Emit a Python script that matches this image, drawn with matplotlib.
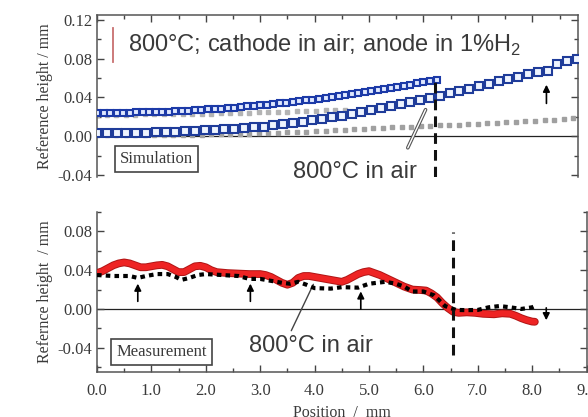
import numpy as np
import matplotlib.pyplot as plt
import matplotlib.patheffects as pe
from matplotlib.ticker import MultipleLocator, FormatStrFormatter

plt.rcParams['font.family'] = ['Liberation Serif', 'DejaVu Serif']
plt.rcParams['axes.unicode_minus'] = False
plt.rcParams['mathtext.fontset'] = 'custom'
plt.rcParams['mathtext.rm'] = 'Liberation Sans'

# ---- Simulacion (panel de arriba) ----
# cathode en aire, anode en 1%H2 (cuadros densos, arriba)
paso_h2 = 0.12
sim_h2 = [0.0240, 0.0240, 0.0241, 0.0241, 0.0242, 0.0243, 0.0245, 0.0246, 0.0248, 0.0250,
          0.0253, 0.0255, 0.0258, 0.0261, 0.0265, 0.0269, 0.0272, 0.0277, 0.0281, 0.0286,
          0.0291, 0.0296, 0.0301, 0.0307, 0.0313, 0.0319, 0.0326, 0.0332, 0.0339, 0.0347,
          0.0354, 0.0362, 0.0370, 0.0378, 0.0386, 0.0395, 0.0404, 0.0413, 0.0423, 0.0433,
          0.0443, 0.0453, 0.0464, 0.0474, 0.0485, 0.0497, 0.0508, 0.0520, 0.0532, 0.0544,
          0.0557, 0.0570, 0.0583]
# 800C en aire (cuadros grandes)
paso_aire = 0.18
sim_aire = [0.0030, 0.0031, 0.0032, 0.0033, 0.0035, 0.0038, 0.0041, 0.0044, 0.0047, 0.0051,
            0.0055, 0.0060, 0.0065, 0.0071, 0.0078, 0.0085, 0.0092, 0.0100, 0.0112, 0.0124,
            0.0137, 0.0150, 0.0163, 0.0178, 0.0195, 0.0213, 0.0232, 0.0252, 0.0272, 0.0292,
            0.0312, 0.0332, 0.0352, 0.0372, 0.0395, 0.0418, 0.0442, 0.0466, 0.0490, 0.0515,
            0.0540, 0.0565, 0.0590, 0.0615, 0.0640, 0.0660, 0.0672, 0.0740, 0.0775, 0.0800]
# referencias en gris
paso_gris = 0.175
sim_gris = [0.0010, 0.0010, 0.0011, 0.0011, 0.0012, 0.0012, 0.0013, 0.0014, 0.0015, 0.0016,
            0.0017, 0.0018, 0.0019, 0.0021, 0.0023, 0.0025, 0.0027, 0.0030, 0.0033, 0.0036,
            0.0040, 0.0044, 0.0049, 0.0054, 0.0059, 0.0064, 0.0068, 0.0073, 0.0078, 0.0082,
            0.0087, 0.0091, 0.0096, 0.0100, 0.0104, 0.0108, 0.0112, 0.0117, 0.0121, 0.0125,
            0.0130, 0.0134, 0.0139, 0.0144, 0.0149, 0.0154, 0.0160, 0.0166, 0.0172, 0.0178,
            0.0185]
sim_gris2 = [0.0222, 0.0222, 0.0223, 0.0223, 0.0224, 0.0225, 0.0226, 0.0227, 0.0228, 0.0229,
             0.0230, 0.0232, 0.0234, 0.0236, 0.0238, 0.0240, 0.0243, 0.0246, 0.0249, 0.0252,
             0.0255, 0.0258, 0.0261, 0.0264, 0.0267, 0.0271, 0.0275]

# ---- Medicion (panel de abajo) ----
x_med_h2 = [0.00, 0.10, 0.20, 0.30, 0.40, 0.50, 0.60, 0.70, 0.80, 0.90, 1.00, 1.10, 1.20, 1.30,
            1.40, 1.50, 1.60, 1.70, 1.80, 1.90, 2.00, 2.10, 2.20, 2.40, 2.60, 2.80, 3.00, 3.10,
            3.20, 3.30, 3.40, 3.50, 3.60, 3.70, 3.80, 3.90, 4.00, 4.20, 4.40, 4.50, 4.60, 4.70,
            4.80, 4.90, 5.00, 5.10, 5.20, 5.35, 5.50, 5.65, 5.80, 5.95, 6.05, 6.15, 6.25, 6.35,
            6.45, 6.55, 6.65, 6.80, 6.95, 7.10, 7.30, 7.45, 7.60, 7.70, 7.80, 7.90, 8.00, 8.05]
med_h2 = [0.037, 0.039, 0.042, 0.045, 0.047, 0.048, 0.047, 0.045, 0.043, 0.043, 0.044, 0.045,
          0.0455, 0.044, 0.041, 0.038, 0.038, 0.041, 0.044, 0.0445, 0.043, 0.040, 0.038, 0.037,
          0.0365, 0.036, 0.036, 0.035, 0.033, 0.030, 0.027, 0.025, 0.027, 0.032, 0.034, 0.034,
          0.033, 0.031, 0.029, 0.028, 0.030, 0.033, 0.036, 0.038, 0.039, 0.037, 0.035, 0.031,
          0.027, 0.023, 0.020, 0.0195, 0.019, 0.016, 0.012, 0.006, 0.001, -0.003, -0.004,
          -0.0035, -0.004, -0.005, -0.0055, -0.0045, -0.005, -0.007, -0.0095, -0.0115, -0.013,
          -0.0132]
x_med_aire = [0.00, 0.30, 0.60, 0.75, 0.90, 1.10, 1.30, 1.45, 1.55, 1.70, 1.85, 2.00, 2.30, 2.60,
              2.80, 3.00, 3.20, 3.40, 3.55, 3.70, 3.85, 4.00, 4.30, 4.50, 4.80, 5.00, 5.30, 5.50,
              5.65, 5.80, 6.00, 6.20, 6.40, 6.60, 6.80, 7.00, 7.20, 7.40, 7.60, 7.80, 8.00, 8.05]
med_aire = [0.035, 0.034, 0.034, 0.032, 0.034, 0.036, 0.036, 0.033, 0.030, 0.032, 0.035, 0.036,
            0.035, 0.034, 0.031, 0.031, 0.029, 0.027, 0.026, 0.028, 0.025, 0.0215, 0.021, 0.0225,
            0.022, 0.026, 0.028, 0.026, 0.023, 0.018, 0.018, 0.014, 0.003, -0.001, -0.0012,
            -0.001, 0.0017, 0.003, 0.0017, 0.000, 0.0017, 0.003]

x_interfaz_sim = 6.22
x_interfaz_med = 6.55

gris_txt = '#3a3a3a'
fig = plt.figure(figsize=(5.88, 4.17), dpi=100)
ax1 = fig.add_axes([97/588, 1-177/417, 481/588, 162/417])
ax2 = fig.add_axes([97/588, 1-372/417, 489.5/588, 160/417])


def ejes(ax, ymin, ymax, yticks):
    ax.set_ylim(ymin, ymax)
    ax.set_yticks(yticks)
    ax.yaxis.set_minor_locator(MultipleLocator(0.02))
    ax.xaxis.set_major_locator(MultipleLocator(1.0))
    ax.xaxis.set_minor_locator(MultipleLocator(0.5))
    ax.yaxis.set_major_formatter(FormatStrFormatter('%.2f'))
    ax.tick_params(which='both', direction='in', colors='#444444', labelcolor=gris_txt,
                   labelsize=12, right=True)
    ax.tick_params(which='major', length=5, width=1.0)
    ax.tick_params(which='minor', length=3, width=1.0)
    for s in ax.spines.values():
        s.set_color('#555555')
        s.set_linewidth(1.1)
    ax.axhline(0, color='#222222', lw=0.9, zorder=1)


# panel de arriba
ejes(ax1, -0.042, 0.125, [-0.04, 0.0, 0.04, 0.08, 0.12])
ax1.set_xlim(0, 8.84)
ax1.spines['bottom'].set_visible(False)
ax1.tick_params(which='both', bottom=False, top=True, labelbottom=False)

xg = np.arange(len(sim_gris)) * paso_gris
xg2 = np.arange(len(sim_gris2)) * paso_gris
xa = np.arange(len(sim_aire)) * paso_aire
xh = np.arange(len(sim_h2)) * paso_h2
ax1.plot(xg, sim_gris, ls='none', marker='s', ms=3.4, color='#a0a0a0', zorder=2)
ax1.plot(xg2, sim_gris2, ls='none', marker='s', ms=3.2, color='#b4b4b4', zorder=2)
ax1.plot(xa, sim_aire, ls='none', marker='s', ms=6.0, mfc='#eef4ff', mec='#1f3c9a', mew=1.5, zorder=3)
ax1.plot(xh, sim_h2, ls='none', marker='s', ms=5.0, mfc='#dfe8ff', mec='#1c3aa8', mew=1.5, zorder=4)
ax1.vlines(x_interfaz_sim, -0.042, sim_h2[-1], colors='#111111', lw=2.2,
           linestyles=(0, (3.5, 2)), zorder=5)

ax1.plot([0.033, 0.033], [0.71, 0.92], transform=ax1.transAxes, color='#c87070', lw=1.3)
ax1.text(0.064, 0.815, '800°C; cathode in air; anode in 1%H$_2$', transform=ax1.transAxes,
         family='Liberation Sans', fontsize=17, color=gris_txt, va='center', ha='left')
ax1.text(4.74, -0.037, '800°C in air', family='Liberation Sans', fontsize=17,
         color=gris_txt, ha='center', va='center')
ax1.annotate('', xy=(6.06, 0.030), xytext=(5.69, -0.0145),
             arrowprops=dict(arrowstyle='-', color='#555555', lw=2.6,
                             path_effects=[pe.Stroke(linewidth=2.6, foreground='#555555'),
                                           pe.Stroke(linewidth=1.0, foreground='white')]))
ax1.annotate('', xy=(8.26, 0.056), xytext=(8.26, 0.031),
             arrowprops=dict(arrowstyle='-|>', color='black', lw=1.2, mutation_scale=10))
ax1.text(0.123, 0.111, 'Simulation', transform=ax1.transAxes, fontsize=12, color=gris_txt,
         ha='center', va='center',
         bbox=dict(boxstyle='square,pad=0.3', fc='white', ec='#444444', lw=1.2))
ax1.set_ylabel('Reference height / mm', fontsize=11.5, color=gris_txt, labelpad=3)

# panel de abajo
ejes(ax2, -0.065, 0.10, [-0.04, 0.0, 0.04, 0.08])
ax2.set_xlim(0, 9.0)
ax2.spines['top'].set_visible(False)
ax2.tick_params(which='both', top=False)
ax2.xaxis.set_major_formatter(FormatStrFormatter('%.1f'))
ax2.tick_params(axis='x', pad=8)

ax2.plot(x_med_h2, med_h2, color='#ee2424', lw=4.2, solid_capstyle='round', zorder=3,
         path_effects=[pe.Stroke(linewidth=5.6, foreground='#b01515'), pe.Normal()])
ax2.plot(x_med_aire, med_aire, color='black', lw=3.0, ls=(0, (1.1, 1.0)), zorder=4)
ax2.vlines(x_interfaz_med, -0.0476, 0.0796, colors='#111111', lw=2.2,
           linestyles=(0, (3.5, 2.2)), zorder=5)

for xf, y0, y1 in [(0.75, 0.005, 0.029), (2.82, 0.005, 0.029), (4.85, -0.003, 0.021),
                   (8.26, 0.004, -0.0145)]:
    ax2.annotate('', xy=(xf, y1), xytext=(xf, y0),
                 arrowprops=dict(arrowstyle='-|>', color='black', lw=1.2, mutation_scale=10))
ax2.text(3.93, -0.038, '800°C in air', family='Liberation Sans', fontsize=17,
         color=gris_txt, ha='center', va='center')
ax2.annotate('', xy=(4.0, 0.028), xytext=(3.55, -0.025),
             arrowprops=dict(arrowstyle='-', color='#444444', lw=1.0))
ax2.text(0.132, 0.128, 'Measurement', transform=ax2.transAxes, fontsize=12, color=gris_txt,
         ha='center', va='center',
         bbox=dict(boxstyle='square,pad=0.3', fc='white', ec='#444444', lw=1.2))
ax2.set_ylabel('Refernce height  / mm', fontsize=11.5, color=gris_txt, labelpad=3)
ax2.set_xlabel('Position  /  mm', fontsize=11.5, color=gris_txt, labelpad=4)

fig.savefig('out.png', dpi=100)
